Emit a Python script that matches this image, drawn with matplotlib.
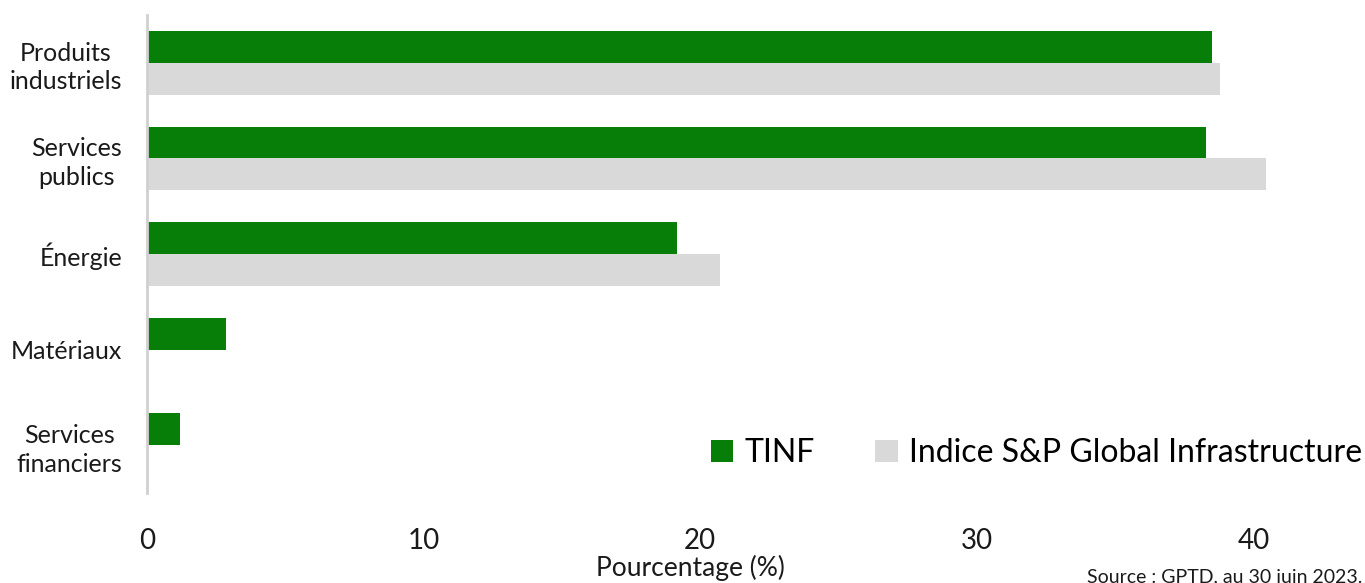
import numpy as np
import matplotlib.pyplot as plt

plt.rcParams['font.family'] = ['Lato', 'DejaVu Sans']

# data
categories = ['Produits\nindustriels', 'Services\npublics', 'Énergie', 'Matériaux', 'Services\nfinanciers']
tinf = [38.5, 38.3, 19.15, 2.85, 1.2]
indice = [38.8, 40.45, 20.7, 0, 0]
series_names = ['TINF', 'Indice S&P Global Infrastructure']
xticks = [0, 10, 20, 30, 40]

green = '#077E07'
grey = '#D9D9D9'
txt = '#1a1a1a'

fig = plt.figure(figsize=(13.65, 5.83), dpi=100)
ax = fig.add_axes([147 / 1365, 1 - 493 / 583, 1217 / 1365, 478 / 583])

y = np.arange(len(categories))
h = 1 / 3
ax.barh(y - h / 2, tinf, height=h, color=green, label=series_names[0])
ax.barh(y + h / 2, indice, height=h, color=grey, label=series_names[1])

ax.set_ylim(len(categories) - 0.5, -0.5)
ax.set_xlim(0, 44)

ax.set_yticks(y)
ax.set_yticklabels(categories, fontsize=18, multialignment='center', color=txt,
                   linespacing=1.3)
ax.set_xticks(xticks)
ax.set_xticklabels([str(t) for t in xticks], fontsize=20, color=txt)
ax.tick_params(axis='both', length=0)
ax.tick_params(axis='y', pad=18)
ax.tick_params(axis='x', pad=25)

for s in ['top', 'right', 'bottom']:
    ax.spines[s].set_visible(False)
ax.spines['left'].set_color('#D0D0D0')
ax.spines['left'].set_linewidth(2)

fig.text(690 / 1365, 1 - 568 / 583, 'Pourcentage (%)', fontsize=19, color=txt,
         ha='center', va='center')

fig.legend(loc='center right', bbox_to_anchor=(1362 / 1365, 1 - 453 / 583), ncol=2, frameon=False,
           fontsize=23, handlelength=0.7, handleheight=0.7, handletextpad=0.35,
           columnspacing=1.9, borderaxespad=0, borderpad=0)

fig.text(1362 / 1365, 1 - 577 / 583, 'Source : GPTD, au 30 juin 2023.', fontsize=14,
         ha='right', va='center', color=txt)

fig.savefig('out.png', dpi=100)
